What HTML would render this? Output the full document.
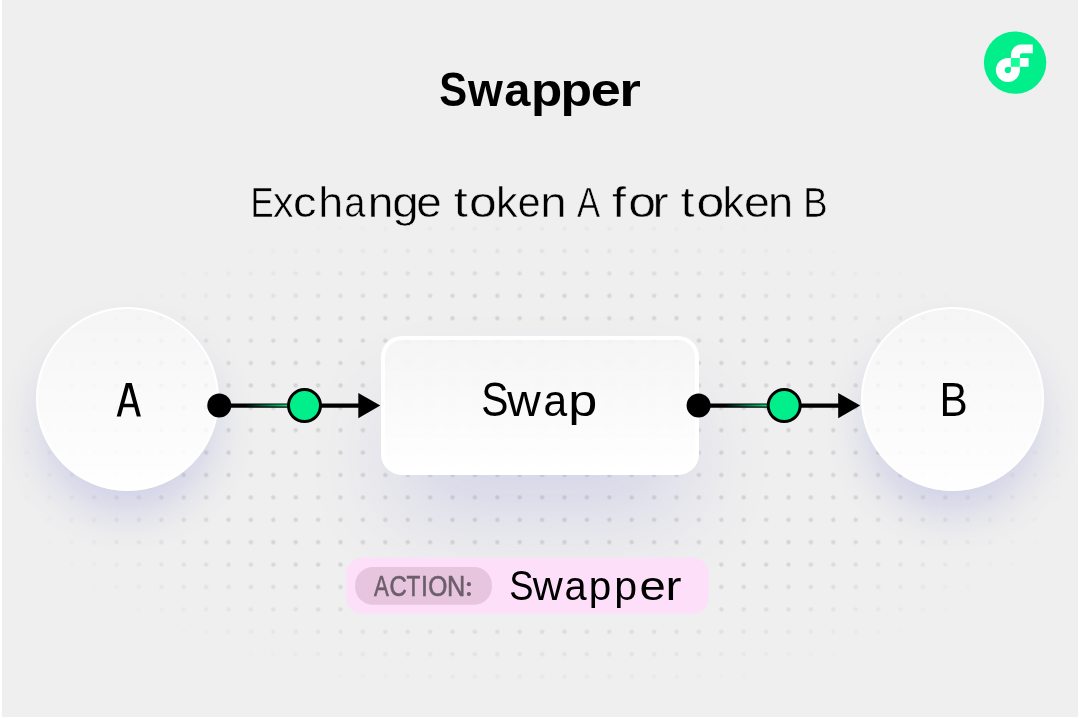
<!DOCTYPE html>
<html>
<head>
<meta charset="utf-8">
<style>
  html, body { margin: 0; padding: 0; }
  body { width: 1080px; height: 718px; background: #ffffff; position: relative; overflow: hidden; font-family: "Liberation Sans", sans-serif; }
  #panel { position: absolute; left: 2px; top: 0; width: 1076px; height: 717px; background: #efefef; overflow: hidden; }
  .abs { position: absolute; }
  #bg { position: absolute; left: 0; top: 0; }
  .node { position: absolute; border-radius: 50%; box-sizing: border-box; border: 2px solid #ffffff;
    background: linear-gradient(180deg, rgba(255,255,255,0.4) 0%, rgba(255,255,255,0.97) 100%);
    box-shadow: 0 26px 42px -4px rgba(85,90,200,0.2); }
  #box { position: absolute; box-sizing: border-box; border: 4px solid #ffffff; border-radius: 21px;
    background: linear-gradient(180deg, rgba(255,255,255,0.4) 0%, rgba(255,255,255,0.97) 100%);
    box-shadow: 0 50px 90px -18px rgba(85,90,200,0.2);
    backdrop-filter: blur(5px); -webkit-backdrop-filter: blur(5px); }
  #fg { position: absolute; left: 0; top: 0; }
</style>
</head>
<body>
<div id="panel"></div>
<svg id="bg" width="1080" height="718" viewBox="0 0 1080 718">
  <defs>
    <pattern id="dots" x="-6.7" y="-6.6" width="22.4" height="22.4" patternUnits="userSpaceOnUse">
      <circle cx="11.2" cy="11.2" r="2.2" fill="#d5d5d5"/>
    </pattern>
    <radialGradient id="fade" gradientUnits="userSpaceOnUse" cx="540" cy="452" r="540" gradientTransform="translate(540 452) scale(1 0.462) translate(-540 -452)">
      <stop offset="0" stop-color="#fff"/>
      <stop offset="0.62" stop-color="#fff"/>
      <stop offset="1" stop-color="#000"/>
    </radialGradient>
    <mask id="m" maskUnits="userSpaceOnUse" x="0" y="0" width="1080" height="718">
      <rect x="0" y="0" width="1080" height="718" fill="url(#fade)"/>
    </mask>
  </defs>
  <rect x="2" y="0" width="1076" height="717" fill="url(#dots)" mask="url(#m)"/>
</svg>

<div class="node" style="left:35.5px; top:306.5px; width:183px; height:184px;"></div>
<div class="node" style="left:861px; top:306.8px; width:183px; height:184px;"></div>
<div id="box" style="left:381px; top:336px; width:318px; height:138.5px;"></div>

<svg id="fg" width="1080" height="718" viewBox="0 0 1080 718">
  <defs>
    <linearGradient id="gl1" gradientUnits="userSpaceOnUse" x1="245" y1="0" x2="290" y2="0">
      <stop offset="0" stop-color="#000"/>
      <stop offset="1" stop-color="#00ef8b"/>
    </linearGradient>
    <linearGradient id="gl2" gradientUnits="userSpaceOnUse" x1="724.5" y1="0" x2="769.5" y2="0">
      <stop offset="0" stop-color="#000"/>
      <stop offset="1" stop-color="#00ef8b"/>
    </linearGradient>
  </defs>
  <!-- Title -->
  <!--T:title--><g>
  <text transform="translate(439.34 105.6) scale(0.857 1)" font-family="Liberation Sans" font-size="48.8" font-weight="700" fill="#000" >S</text>
  <text transform="translate(467.91 105.6) scale(0.956 1)" font-family="Liberation Sans" font-size="46.8" font-weight="700" fill="#000" >w</text>
  <text transform="translate(504.19 105.6) scale(1.003 1)" font-family="Liberation Sans" font-size="46.8" font-weight="700" fill="#000" >a</text>
  <text transform="translate(530.88 105.6) scale(1.092 1)" font-family="Liberation Sans" font-size="46.8" font-weight="700" fill="#000" >p</text>
  <text transform="translate(560.54 105.6) scale(1.104 1)" font-family="Liberation Sans" font-size="46.8" font-weight="700" fill="#000" >p</text>
  <text transform="translate(590.64 105.6) scale(1.156 1)" font-family="Liberation Sans" font-size="46.8" font-weight="700" fill="#000" >e</text>
  <text transform="translate(619.19 105.6) scale(1.186 1)" font-family="Liberation Sans" font-size="46.8" font-weight="700" fill="#000" >r</text>
  </g><!--/T:title-->
  <!-- Subtitle -->
  <!--T:sub--><g>
  <text transform="translate(250.40 217.4) scale(0.800 1)" font-family="Liberation Sans" font-size="43.3" font-weight="400" fill="#000" stroke="#efefef" stroke-width="0.5">E</text>
  <text transform="translate(273.09 217.4) scale(0.977 1)" font-family="Liberation Sans" font-size="42" font-weight="400" fill="#000" stroke="#efefef" stroke-width="0.5">x</text>
  <text transform="translate(293.10 217.4) scale(1.118 1)" font-family="Liberation Sans" font-size="42" font-weight="400" fill="#000" stroke="#efefef" stroke-width="0.5">c</text>
  <text transform="translate(318.37 217.4) scale(1.066 1)" font-family="Liberation Sans" font-size="42" font-weight="400" fill="#000" stroke="#efefef" stroke-width="0.5">h</text>
  <text transform="translate(344.18 217.4) scale(0.906 1)" font-family="Liberation Sans" font-size="42" font-weight="400" fill="#000" stroke="#efefef" stroke-width="0.5">a</text>
  <text transform="translate(367.68 217.4) scale(1.099 1)" font-family="Liberation Sans" font-size="42" font-weight="400" fill="#000" stroke="#efefef" stroke-width="0.5">n</text>
  <text transform="translate(392.18 217.4) scale(1.132 1)" font-family="Liberation Sans" font-size="42" font-weight="400" fill="#000" stroke="#efefef" stroke-width="0.5">g</text>
  <text transform="translate(416.35 217.4) scale(1.094 1)" font-family="Liberation Sans" font-size="42" font-weight="400" fill="#000" stroke="#efefef" stroke-width="0.5">e</text>
  <text transform="translate(453.87 217.4) scale(1.200 1)" font-family="Liberation Sans" font-size="42" font-weight="400" fill="#000" stroke="#efefef" stroke-width="0.5">t</text>
  <text transform="translate(468.98 217.4) scale(1.189 1)" font-family="Liberation Sans" font-size="42" font-weight="400" fill="#000" stroke="#efefef" stroke-width="0.5">o</text>
  <text transform="translate(495.98 217.4) scale(1.029 1)" font-family="Liberation Sans" font-size="42" font-weight="400" fill="#000" stroke="#efefef" stroke-width="0.5">k</text>
  <text transform="translate(517.75 217.4) scale(0.978 1)" font-family="Liberation Sans" font-size="42" font-weight="400" fill="#000" stroke="#efefef" stroke-width="0.5">e</text>
  <text transform="translate(540.29 217.4) scale(1.133 1)" font-family="Liberation Sans" font-size="42" font-weight="400" fill="#000" stroke="#efefef" stroke-width="0.5">n</text>
  <text transform="translate(577.04 217.4) scale(0.800 1)" font-family="Liberation Sans" font-size="43.3" font-weight="400" fill="#000" stroke="#efefef" stroke-width="0.5">A</text>
  <text transform="translate(612.07 217.4) scale(1.200 1)" font-family="Liberation Sans" font-size="42" font-weight="400" fill="#000" stroke="#efefef" stroke-width="0.5">f</text>
  <text transform="translate(628.18 217.4) scale(1.189 1)" font-family="Liberation Sans" font-size="42" font-weight="400" fill="#000" stroke="#efefef" stroke-width="0.5">o</text>
  <text transform="translate(652.53 217.4) scale(1.152 1)" font-family="Liberation Sans" font-size="42" font-weight="400" fill="#000" stroke="#efefef" stroke-width="0.5">r</text>
  <text transform="translate(680.52 217.4) scale(1.200 1)" font-family="Liberation Sans" font-size="42" font-weight="400" fill="#000" stroke="#efefef" stroke-width="0.5">t</text>
  <text transform="translate(696.38 217.4) scale(1.189 1)" font-family="Liberation Sans" font-size="42" font-weight="400" fill="#000" stroke="#efefef" stroke-width="0.5">o</text>
  <text transform="translate(722.38 217.4) scale(1.029 1)" font-family="Liberation Sans" font-size="42" font-weight="400" fill="#000" stroke="#efefef" stroke-width="0.5">k</text>
  <text transform="translate(744.12 217.4) scale(1.109 1)" font-family="Liberation Sans" font-size="42" font-weight="400" fill="#000" stroke="#efefef" stroke-width="0.5">e</text>
  <text transform="translate(768.05 217.4) scale(1.076 1)" font-family="Liberation Sans" font-size="42" font-weight="400" fill="#000" stroke="#efefef" stroke-width="0.5">n</text>
  <text transform="translate(803.29 217.4) scale(0.841 1)" font-family="Liberation Sans" font-size="43.3" font-weight="400" fill="#000" stroke="#efefef" stroke-width="0.5">B</text>
  </g><!--/T:sub-->

  <!-- Left connector -->
  <line x1="219.3" y1="405.6" x2="362" y2="405.6" stroke="#000" stroke-width="4.4"/>
  <line x1="240" y1="405.6" x2="292" y2="405.6" stroke="url(#gl1)" stroke-width="2"/>
  <circle cx="219.3" cy="405.6" r="12" fill="#000"/>
  <circle cx="304.5" cy="405.6" r="16" fill="#00ef8b" stroke="#000" stroke-width="3"/>
  <path d="M358.3 393 L380.3 405.6 L358.3 418.3 Z" fill="#000"/>

  <!-- Right connector -->
  <line x1="698.6" y1="405.6" x2="842" y2="405.6" stroke="#000" stroke-width="4.4"/>
  <line x1="719" y1="405.6" x2="771" y2="405.6" stroke="url(#gl2)" stroke-width="2"/>
  <circle cx="698.6" cy="405.6" r="12" fill="#000"/>
  <circle cx="784.2" cy="405.6" r="16" fill="#00ef8b" stroke="#000" stroke-width="3"/>
  <path d="M838.2 393 L860.2 405.6 L838.2 418.3 Z" fill="#000"/>

  <!-- Node labels -->
  <path fill="#000" fill-rule="evenodd" d="M116.7 416.4 L125.9 382.9 L131.7 382.9 L140.9 416.4 L136.8 416.4 L134.3 407.2 L123.3 407.2 L120.8 416.4 Z M124.3 403.8 L133.3 403.8 L128.8 387.3 Z"/>
  <text x="0" y="0" transform="translate(953.7 416.2) scale(0.88 1)" text-anchor="middle" font-family="Liberation Sans" font-size="48" fill="#000">B</text>
  <!--T:swap--><g>
  <text transform="translate(481.36 416.3) scale(0.850 1)" font-family="Liberation Sans" font-size="47.9" font-weight="400" fill="#000" >S</text>
  <text transform="translate(507.30 416.3) scale(1.025 1)" font-family="Liberation Sans" font-size="45.2" font-weight="400" fill="#000" >w</text>
  <text transform="translate(543.39 416.3) scale(0.941 1)" font-family="Liberation Sans" font-size="45.2" font-weight="400" fill="#000" >a</text>
  <text transform="translate(568.21 416.3) scale(1.155 1)" font-family="Liberation Sans" font-size="45.2" font-weight="400" fill="#000" >p</text>
  </g><!--/T:swap-->

  <!-- Badge -->
  <rect x="346.2" y="557.8" width="362.6" height="56" rx="16" ry="16" fill="#fddff9"/>
  <rect x="355.1" y="567" width="136.8" height="37.8" rx="18" ry="18" fill="#e7c5de"/>
  <!--T:action--><g>
  <text transform="translate(374.10 595.8) scale(0.772 1)" font-family="Liberation Sans" font-size="28.7" font-weight="400" fill="#6c5e6b" stroke="#6c5e6b" stroke-width="0.6">A</text>
  <text transform="translate(389.44 595.8) scale(0.837 1)" font-family="Liberation Sans" font-size="28.7" font-weight="400" fill="#6c5e6b" stroke="#6c5e6b" stroke-width="0.6">C</text>
  <text transform="translate(406.42 595.8) scale(0.786 1)" font-family="Liberation Sans" font-size="28.7" font-weight="400" fill="#6c5e6b" stroke="#6c5e6b" stroke-width="0.6">T</text>
  <text transform="translate(420.95 595.8) scale(0.867 1)" font-family="Liberation Sans" font-size="28.7" font-weight="400" fill="#6c5e6b" stroke="#6c5e6b" stroke-width="0.6">I</text>
  <text transform="translate(428.18 595.8) scale(0.858 1)" font-family="Liberation Sans" font-size="28.7" font-weight="400" fill="#6c5e6b" stroke="#6c5e6b" stroke-width="0.6">O</text>
  <text transform="translate(447.07 595.8) scale(0.881 1)" font-family="Liberation Sans" font-size="28.7" font-weight="400" fill="#6c5e6b" stroke="#6c5e6b" stroke-width="0.6">N</text>
  <circle cx="468.9" cy="584.2" r="2.1" fill="#6c5e6b"/><circle cx="468.9" cy="594.0" r="2.1" fill="#6c5e6b"/>
  </g><!--/T:action-->
  <!--T:badge--><g>
  <text transform="translate(509.25 600.2) scale(0.850 1)" font-family="Liberation Sans" font-size="42.8" font-weight="400" fill="#000" >S</text>
  <text transform="translate(532.80 600.2) scale(1.013 1)" font-family="Liberation Sans" font-size="41" font-weight="400" fill="#000" >w</text>
  <text transform="translate(564.41 600.2) scale(0.971 1)" font-family="Liberation Sans" font-size="41" font-weight="400" fill="#000" >a</text>
  <text transform="translate(588.67 600.2) scale(0.986 1)" font-family="Liberation Sans" font-size="41" font-weight="400" fill="#000" >p</text>
  <text transform="translate(614.33 600.2) scale(1.003 1)" font-family="Liberation Sans" font-size="41" font-weight="400" fill="#000" >p</text>
  <text transform="translate(639.49 600.2) scale(1.152 1)" font-family="Liberation Sans" font-size="41" font-weight="400" fill="#000" >e</text>
  <text transform="translate(665.56 600.2) scale(1.171 1)" font-family="Liberation Sans" font-size="41" font-weight="400" fill="#000" >r</text>
  </g><!--/T:badge-->

  <!-- Flow logo -->
  <circle cx="1015.1" cy="62.6" r="31.2" fill="#00ef8b"/>
  <path fill="#fff" fill-rule="evenodd" d="M1007.9 58 H1019.9 V70 A12 12 0 1 1 1007.9 58 Z M1007.8 66.9 H1010.9 V70 A3.1 3.1 0 1 1 1007.8 66.9 Z"/>
  <rect x="1010.9" y="58" width="9" height="8.8" fill="#16ff99"/>
  <rect x="1019.9" y="58" width="8.7" height="8.8" fill="#fff"/>
  <path fill="#fff" d="M1010.9 58 V55 A10.5 10.5 0 0 1 1021.4 44.5 H1032.8 V53.2 H1022 A2.1 2.1 0 0 0 1019.9 55.3 V58 Z"/>
</svg>
</body>
</html>
